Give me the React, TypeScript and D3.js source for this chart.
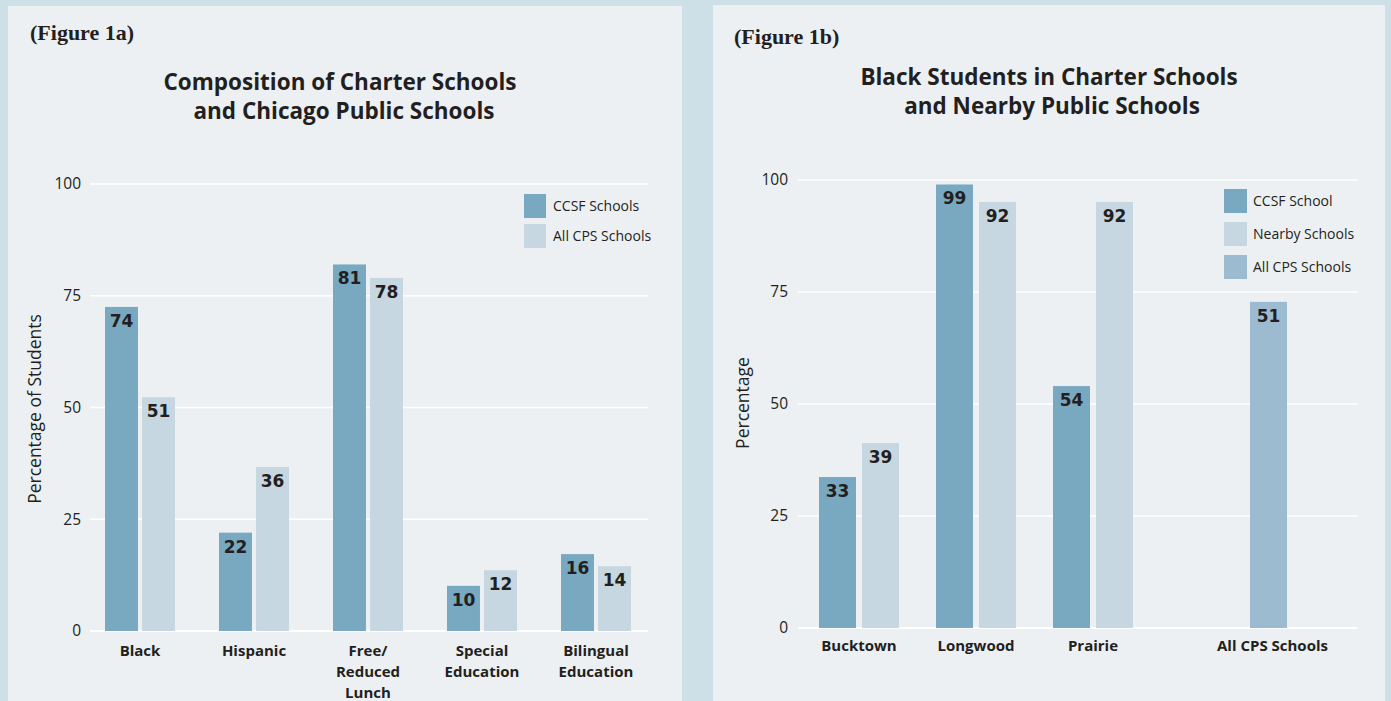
import * as d3 from "d3";

// ---- Figure 1a data ----
const catsA = ["Black", "Hispanic", "Free/Reduced Lunch", "Special Education", "Bilingual Education"];
const catLinesA = [["Black"], ["Hispanic"], ["Free/", "Reduced", "Lunch"], ["Special", "Education"], ["Bilingual", "Education"]];
const seriesA = ["CCSF Schools", "All CPS Schools"];
const ccsfA = [72.5, 22, 82, 10.1, 17.2];
const cpsA = [52.3, 36.7, 79, 13.6, 14.5];
const ccsfLabelsA = ["74", "22", "81", "10", "16"];
const cpsLabelsA = ["51", "36", "78", "12", "14"];

// ---- Figure 1b data ----
const catsB = ["Bucktown", "Longwood", "Prairie", "All CPS Schools"];
const seriesB = ["CCSF School", "Nearby Schools", "All CPS Schools"];
const ccsfB = [33.7, 99, 54];
const nearbyB = [41.3, 95.1, 95.1];
const allCpsB = [72.8];
const ccsfLabelsB = ["33", "99", "54"];
const nearbyLabelsB = ["39", "92", "92"];
const allCpsLabelsB = ["51"];

const yTicks = [0, 25, 50, 75, 100];

const BG = "#cde0e7";
const PANEL = "#ecf0f3";
const C_CCSF = "#79a8c1";
const C_LIGHT = "#c6d7e1";
const C_ALL = "#9dbbd0";
const INK = "#231f20";
const SANS = "'Open Sans', 'Liberation Sans', sans-serif";
const NUM = "'DejaVu Sans', sans-serif";
const SERIF = "'Liberation Serif', serif";

function Bar({ x, w, y0, v, y, label, fill }: any) {
  const top = y(v);
  return (
    <g>
      <rect x={x} y={top} width={w} height={y0 - top} fill={fill} />
      <text x={x + w / 2} y={top + 20} textAnchor="middle" fontFamily={NUM} fontWeight="bold" fontSize={17} fill={INK}>
        {label}
      </text>
    </g>
  );
}

function PanelA() {
  const y = d3.scaleLinear().domain([0, 100]).range([631, 184]);
  const x0 = d3.scaleBand().domain(catsA).range([83, 653]);
  const x1 = d3.scaleBand().domain(seriesA).range([0, 70]).paddingInner(0.11);
  const off = (x0.bandwidth() - 70) / 2;
  return (
    <g>
      <rect x={8} y={6} width={674} height={700} fill={PANEL} />
      <text x={30} y={40} fontFamily={SERIF} fontWeight="bold" fontSize={22} fill={INK}>(Figure 1a)</text>
      <text x={340} y={90} textAnchor="middle" fontFamily={SANS} fontWeight="bold" fontSize={22.5} fill={INK}>Composition of Charter Schools</text>
      <text x={344} y={119} textAnchor="middle" fontFamily={SANS} fontWeight="bold" fontSize={22.5} fill={INK}>and Chicago Public Schools</text>
      {yTicks.map((t) => (
        <g key={t}>
          <line x1={90} x2={648} y1={y(t)} y2={y(t)} stroke="#fff" strokeWidth={t === 0 ? 2 : 1.5} />
          <text x={81} y={y(t)} dy="0.35em" textAnchor="end" fontFamily={SANS} fontSize={15.5} fill={INK}>{t}</text>
        </g>
      ))}
      <text transform="translate(41,409) rotate(-90)" textAnchor="middle" fontFamily={SANS} fontSize={17.5} fill={INK}>Percentage of Students</text>
      {catsA.map((c, i) => {
        const gx = (x0(c) ?? 0) + off;
        return (
          <g key={c}>
            <Bar x={gx + (x1(seriesA[0]) ?? 0)} w={x1.bandwidth()} y0={y(0)} v={ccsfA[i]} y={y} label={ccsfLabelsA[i]} fill={C_CCSF} />
            <Bar x={gx + (x1(seriesA[1]) ?? 0)} w={x1.bandwidth()} y0={y(0)} v={cpsA[i]} y={y} label={cpsLabelsA[i]} fill={C_LIGHT} />
            {catLinesA[i].map((l, j) => (
              <text key={j} x={(x0(c) ?? 0) + x0.bandwidth() / 2} y={656 + j * 21} textAnchor="middle" fontFamily={SANS} fontWeight="bold" fontSize={15} fill={INK}>{l}</text>
            ))}
          </g>
        );
      })}
      {seriesA.map((s, i) => (
        <g key={s}>
          <rect x={524} y={194 + i * 30} width={22} height={24} fill={i === 0 ? C_CCSF : C_LIGHT} />
          <text x={553} y={206 + i * 30} dy="0.35em" fontFamily={SANS} fontSize={14} fill={INK}>{s}</text>
        </g>
      ))}
    </g>
  );
}

function PanelB() {
  const y = d3.scaleLinear().domain([0, 100]).range([628, 180]);
  // the last group is set off by an extra half step
  const slot = (i: number) => (i < 3 ? i : 3.5);
  const xc = d3.scaleLinear().domain([0, 1]).range([859, 976]);
  const x1 = d3.scaleBand().domain(seriesB.slice(0, 2)).range([0, 80]).paddingInner(0.14);
  const bw = x1.bandwidth();
  return (
    <g>
      <rect x={713} y={5} width={672} height={700} fill={PANEL} />
      <text x={734} y={44} fontFamily={SERIF} fontWeight="bold" fontSize={22} fill={INK}>(Figure 1b)</text>
      <text x={1049} y={85} textAnchor="middle" fontFamily={SANS} fontWeight="bold" fontSize={22.5} fill={INK}>Black Students in Charter Schools</text>
      <text x={1052} y={114} textAnchor="middle" fontFamily={SANS} fontWeight="bold" fontSize={22.5} fill={INK}>and Nearby Public Schools</text>
      {yTicks.map((t) => (
        <g key={t}>
          <line x1={798} x2={1357} y1={y(t)} y2={y(t)} stroke="#fff" strokeWidth={t === 0 ? 2 : 1.5} />
          <text x={788} y={y(t)} dy="0.35em" textAnchor="end" fontFamily={SANS} fontSize={15.5} fill={INK}>{t}</text>
        </g>
      ))}
      <text transform="translate(749,403) rotate(-90)" textAnchor="middle" fontFamily={SANS} fontSize={17.5} fill={INK}>Percentage</text>
      {catsB.map((c, i) => {
        const cx = xc(slot(i));
        return (
          <g key={c}>
            {i < 3 ? (
              <>
                <Bar x={cx - 40 + (x1(seriesB[0]) ?? 0)} w={bw} y0={y(0)} v={ccsfB[i]} y={y} label={ccsfLabelsB[i]} fill={C_CCSF} />
                <Bar x={cx - 40 + (x1(seriesB[1]) ?? 0)} w={bw} y0={y(0)} v={nearbyB[i]} y={y} label={nearbyLabelsB[i]} fill={C_LIGHT} />
              </>
            ) : (
              <Bar x={cx - bw / 2} w={bw} y0={y(0)} v={allCpsB[0]} y={y} label={allCpsLabelsB[0]} fill={C_ALL} />
            )}
            <text x={cx + (i < 3 ? 0 : 4)} y={651} textAnchor="middle" fontFamily={SANS} fontWeight="bold" fontSize={15} fill={INK}>{c}</text>
          </g>
        );
      })}
      {seriesB.map((s, i) => (
        <g key={s}>
          <rect x={1224} y={189 + i * 33} width={23} height={24} fill={[C_CCSF, C_LIGHT, C_ALL][i]} />
          <text x={1253} y={201 + i * 33} dy="0.35em" fontFamily={SANS} fontSize={14} fill={INK}>{s}</text>
        </g>
      ))}
    </g>
  );
}

export default function App() {
  return (
    <svg width={1391} height={701} style={{ position: "fixed", left: 0, top: 0, display: "block" }}>
      <rect width={1391} height={701} fill={BG} />
      <PanelA />
      <PanelB />
    </svg>
  );
}
